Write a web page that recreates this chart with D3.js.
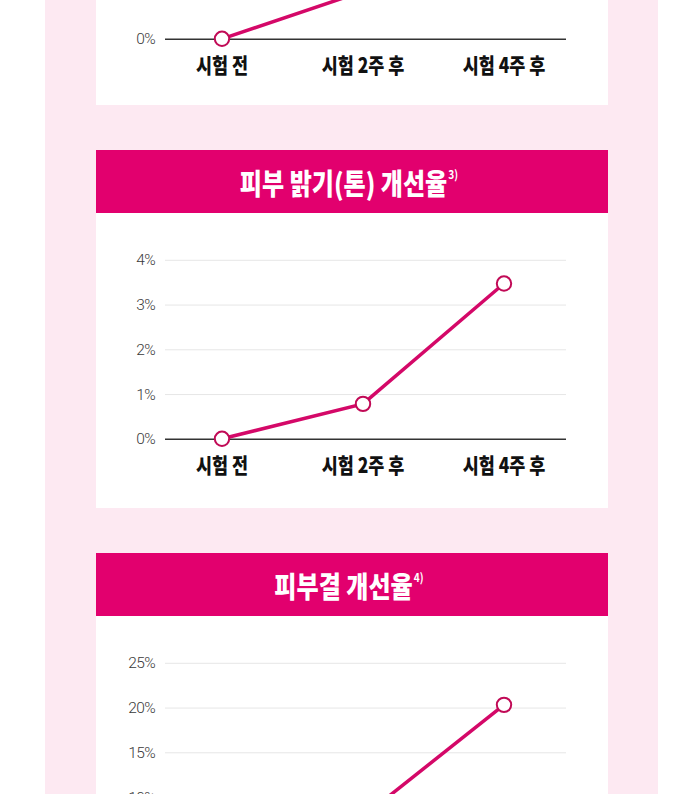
<!DOCTYPE html>
<html>
<head>
<meta charset="utf-8">
<script src="https://cdn.jsdelivr.net/npm/d3@7"></script>
<style>
  body { margin: 0; background: #fff; }
  svg { display: block; }
</style>
</head>
<body>
<div class="chart"></div>
<script>
// data
var categories = ["시험 전", "시험 2주 후", "시험 4주 후"]

var titles = ["피부 수분 개선율", "피부 밝기(톤) 개선율", "피부결 개선율"]
var footnotes = ["2)", "3)", "4)"]

var moistureValues = [0, 1.06, 2.6]
var toneValues = [0, 0.78, 3.47]
var textureValues = [0, 7.8, 20.3]

var moistureTicks = [0, 1, 2, 3, 4]
var toneTicks = [0, 1, 2, 3, 4]
var textureTicks = [0, 5, 10, 15, 20, 25]

var panels = [
  { title: titles[0], note: footnotes[0], values: moistureValues, ticks: moistureTicks, top: -250 },
  { title: titles[1], note: footnotes[1], values: toneValues, ticks: toneTicks, top: 150 },
  { title: titles[2], note: footnotes[2], values: textureValues, ticks: textureTicks, top: 553 }
]

var W = 700, H = 794
var svg = d3.select(".chart").append("svg").attr("width", W).attr("height", H)

var pink = "#fde9f2", magenta = "#e2006e", lineColor = "#d40868", dotColor = "#c10a56"
var squeeze = 0.83

svg.append("rect").attr("x", 0).attr("y", 0).attr("width", W).attr("height", H).attr("fill", "#fff")
svg.append("rect").attr("x", 45).attr("y", 0).attr("width", 613).attr("height", H).attr("fill", pink)

var x = d3.scalePoint().domain(categories).range([222, 504])

var step = 44.75

// squash korean text a bit, the original font is narrow
function condense(sel) {
  sel.each(function () {
    var len = this.getComputedTextLength()
    d3.select(this).attr("textLength", len * squeeze).attr("lengthAdjust", "spacingAndGlyphs")
  })
}

panels.forEach((p, i) => {
  var headerTop = p.top
  var gridTop = headerTop + 109.8
  var n = p.ticks.length - 1
  var baseline = gridTop + n * step
  var cardBottom = i < panels.length - 1 ? panels[i + 1].top - 45 : H + 50

  var g = svg.append("g")

  // card
  g.append("rect").attr("x", 96).attr("y", headerTop).attr("width", 512)
    .attr("height", cardBottom - headerTop).attr("fill", "#fff")
  g.append("rect").attr("x", 96).attr("y", headerTop).attr("width", 512)
    .attr("height", 63).attr("fill", magenta)

  // title
  var t = g.append("text")
    .attr("y", headerTop + 32)
    .attr("dominant-baseline", "central")
    .style("font-family", "'Noto Sans CJK KR', sans-serif")
    .style("font-weight", 900)
    .style("font-size", "29px")
    .style("fill", "#fff")
    .text(p.title)
  var mainW = t.node().getComputedTextLength() * squeeze
  t.attr("textLength", mainW).attr("lengthAdjust", "spacingAndGlyphs")
  var s = g.append("text")
    .attr("y", headerTop + 29)
    .style("font-family", "'Noto Sans CJK KR', sans-serif")
    .style("font-weight", 700)
    .style("font-size", "12px")
    .style("fill", "#fff")
    .text(p.note)
  var supW = s.node().getComputedTextLength() * 0.85
  s.attr("textLength", supW).attr("lengthAdjust", "spacingAndGlyphs")
  var startX = 349 - (mainW + 1 + supW) / 2
  t.attr("x", startX)
  s.attr("x", startX + mainW + 1)

  var y = d3.scaleLinear().domain([0, d3.max(p.ticks)]).range([baseline, gridTop])

  // grid + y labels
  var axis = g.append("g")
    .attr("transform", "translate(165,0)")
    .call(d3.axisLeft(y).tickValues(p.ticks).tickSize(-401).tickPadding(10).tickFormat(d => d + "%"))
  axis.select(".domain").remove()
  axis.selectAll(".tick line")
    .attr("stroke", d => d === 0 ? "#333" : "#e6e6e6")
    .attr("stroke-width", d => d === 0 ? 1.6 : 1)
  axis.selectAll(".tick text")
    .style("font-family", "Roboto, sans-serif")
    .style("font-weight", 300)
    .style("font-size", "15.5px")
    .style("letter-spacing", "-0.6px")
    .style("fill", "#3a3a3a")

  // x labels
  g.selectAll(".xlab")
    .data(categories)
    .enter()
    .append("text")
    .attr("class", "xlab")
    .attr("x", d => x(d))
    .attr("y", baseline + 25)
    .attr("text-anchor", "middle")
    .attr("dominant-baseline", "central")
    .style("font-family", "'Noto Sans CJK KR', sans-serif")
    .style("font-weight", 900)
    .style("font-size", "21px")
    .style("fill", "#111")
    .text(d => d)
    .call(condense)

  // line
  var line = d3.line().x((d, j) => x(categories[j])).y(d => y(d))
  g.append("path")
    .datum(p.values)
    .attr("d", line)
    .attr("fill", "none")
    .attr("stroke", lineColor)
    .attr("stroke-width", 3.5)

  g.selectAll(".dot")
    .data(p.values)
    .enter()
    .append("circle")
    .attr("class", "dot")
    .attr("cx", (d, j) => x(categories[j]))
    .attr("cy", d => y(d))
    .attr("r", 7.2)
    .attr("fill", "#fff")
    .attr("stroke", dotColor)
    .attr("stroke-width", 2)
})
</script>
</body>
</html>
